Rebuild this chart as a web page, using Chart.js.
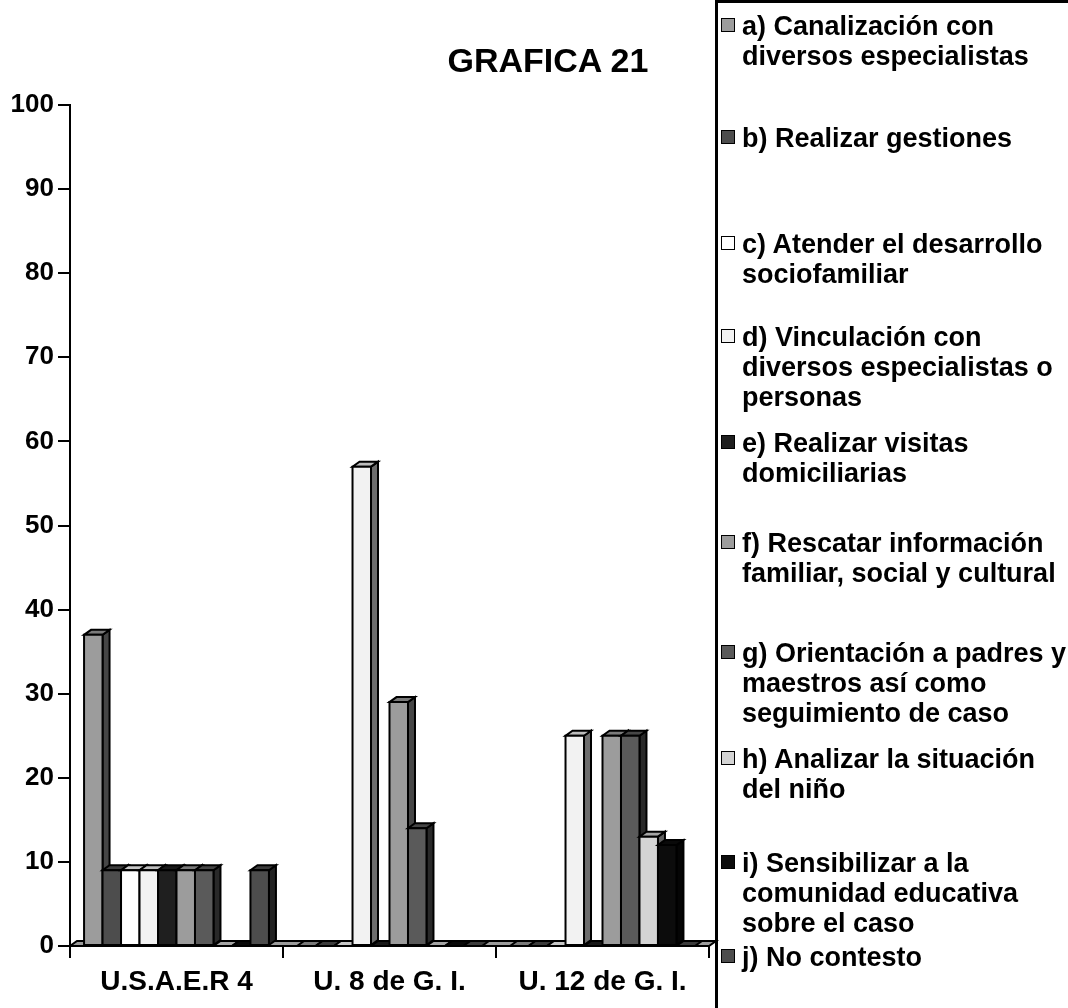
<!DOCTYPE html>
<html>
<head>
    <title>Grafica 21</title>
    <meta charset="UTF-8">
    <style>
        body {
            margin: 0;
            background: #fff;
            font-family: "Liberation Sans", Arial, sans-serif;
        }
        .page {
            position: relative;
            width: 1068px;
            height: 1008px;
            overflow: hidden;
        }
        .chart-container {
            position: absolute;
            left: 0;
            top: 0;
            width: 1068px;
            height: 1008px;
        }
        .main-title {
            position: absolute;
            left: 398px;
            top: 44px;
            width: 300px;
            text-align: center;
            font-size: 34px;
            line-height: 32px;
            font-weight: bold;
            color: #000;
        }
        .legend {
            position: absolute;
            left: 715px;
            top: 0;
            width: 400px;
            height: 1100px;
            box-sizing: border-box;
            border: 3px solid #000;
        }
        .legend-item {
            position: absolute;
            left: 24px;
            white-space: pre;
            font-size: 27px;
            line-height: 30px;
            font-weight: bold;
            color: #000;
        }
        .legend-box {
            position: absolute;
            left: -21px;
            top: 7px;
            width: 12px;
            height: 12px;
            border: 1.5px solid #000;
        }
    </style>
    <!-- Include Chart.js library -->
    <script src="https://cdn.jsdelivr.net/npm/chart.js"></script>
</head>
<body>

<div class="page">
    <div class="chart-container">
        <canvas id="chartGrafica"></canvas>
    </div>
    <div class="main-title">GRAFICA 21</div>
    <div class="legend" id="legend"></div>
</div>

<script>
    // Categories on the x axis
    const categories = ['U.S.A.E.R 4', 'U. 8 de G. I.', 'U. 12 de G. I.'];

    // One list of percentages per answer, in category order
    const canalizacion = [37, 0, 0];
    const gestiones = [9, 0, 0];
    const desarrollo = [9, 0, 0];
    const vinculacion = [9, 57, 25];
    const visitas = [9, 0, 0];
    const rescatar = [9, 29, 25];
    const orientacion = [9, 14, 25];
    const analizar = [0, 0, 13];
    const sensibilizar = [0, 0, 12];
    const noContesto = [9, 0, 0];

    const seriesLabels = [
        'a) Canalización con\ndiversos especialistas',
        'b) Realizar gestiones',
        'c) Atender el desarrollo\nsociofamiliar',
        'd) Vinculación con\ndiversos especialistas o\npersonas',
        'e) Realizar visitas\ndomiciliarias',
        'f) Rescatar información\nfamiliar, social y cultural',
        'g) Orientación a padres y\nmaestros así como\nseguimiento de caso',
        'h) Analizar la situación\ndel niño',
        'i) Sensibilizar a la\ncomunidad educativa\nsobre el caso',
        'j) No contesto'
    ];

    const yTickValues = [0, 10, 20, 30, 40, 50, 60, 70, 80, 90, 100];

    const seriesValues = [canalizacion, gestiones, desarrollo, vinculacion, visitas,
        rescatar, orientacion, analizar, sensibilizar, noContesto];

    const seriesColors = ['#9c9c9c', '#4d4d4d', '#ffffff', '#f2f2f2', '#1f1f1f',
        '#9c9c9c', '#5a5a5a', '#d4d4d4', '#0c0c0c', '#4d4d4d'];

    // baseline of the first line of each legend entry
    const legendBaselines = [35, 147, 253, 346, 452, 552, 662, 768, 872, 966];

    // depth of the extruded bars
    const DEPTH_X = 7;
    const DEPTH_Y = 5;

    function shade(hex, f) {
        const n = parseInt(hex.slice(1), 16);
        const r = Math.round(((n >> 16) & 255) * f);
        const g = Math.round(((n >> 8) & 255) * f);
        const b = Math.round((n & 255) * f);
        return `rgb(${r}, ${g}, ${b})`;
    }

    function poly(ctx, pts, fill) {
        ctx.beginPath();
        ctx.moveTo(pts[0][0], pts[0][1]);
        for (let i = 1; i < pts.length; i++) ctx.lineTo(pts[i][0], pts[i][1]);
        ctx.closePath();
        ctx.fillStyle = fill;
        ctx.fill();
        ctx.stroke();
    }

    // draws each bar as a small prism (front, side and top) plus the floor strip
    const prismBars = {
        id: 'prismBars',
        beforeDatasetsDraw(chart) {
            const ctx = chart.ctx;
            const xScale = chart.scales.x;
            const base = chart.scales.y.getPixelForValue(0);

            ctx.save();
            ctx.lineWidth = 2;
            ctx.strokeStyle = '#000';
            ctx.lineJoin = 'miter';

            poly(ctx, [
                [xScale.left, base], [xScale.right, base],
                [xScale.right + DEPTH_X, base - DEPTH_Y], [xScale.left + DEPTH_X, base - DEPTH_Y]
            ], '#9c9c9c');

            chart.data.labels.forEach((_, c) => {
                chart.data.datasets.forEach((ds, d) => {
                    const bar = chart.getDatasetMeta(d).data[c].getProps(['x', 'y', 'base', 'width'], true);
                    const left = bar.x - bar.width / 2;
                    const right = bar.x + bar.width / 2;
                    const top = bar.y;
                    const bottom = bar.base;
                    const col = ds.backgroundColor;

                    if (top < bottom - 0.5) {
                        poly(ctx, [
                            [right, bottom], [right + DEPTH_X, bottom - DEPTH_Y],
                            [right + DEPTH_X, top - DEPTH_Y], [right, top]
                        ], shade(col, 0.45));
                    }
                    poly(ctx, [
                        [left, top], [right, top],
                        [right + DEPTH_X, top - DEPTH_Y], [left + DEPTH_X, top - DEPTH_Y]
                    ], shade(col, 0.78));
                    if (top < bottom - 0.5) {
                        poly(ctx, [[left, top], [right, top], [right, bottom], [left, bottom]], col);
                    }
                });
            });

            ctx.restore();
            return false;
        }
    };

    function buildLegend() {
        const legend = document.getElementById('legend');
        seriesLabels.forEach((label, i) => {
            const item = document.createElement('div');
            item.className = 'legend-item';
            // 3px border of the legend frame, baseline sits 24px below the line top
            item.style.top = (legendBaselines[i] - 24 - 3) + 'px';
            item.textContent = label;

            const box = document.createElement('span');
            box.className = 'legend-box';
            box.style.background = seriesColors[i];
            item.appendChild(box);

            legend.appendChild(item);
        });
    }

    function renderChart() {
        Chart.defaults.font.family = '"Liberation Sans", Arial, sans-serif';
        Chart.defaults.font.weight = 'bold';
        Chart.defaults.color = '#000';

        const ctx = document.getElementById('chartGrafica').getContext('2d');

        new Chart(ctx, {
            type: 'bar',
            data: {
                labels: categories,
                datasets: seriesLabels.map((label, i) => ({
                    label: label,
                    data: seriesValues[i],
                    backgroundColor: seriesColors[i],
                    borderColor: '#000',
                    borderWidth: 2,
                    categoryPercentage: 0.868,
                    barPercentage: 1.0
                }))
            },
            options: {
                responsive: true,
                maintainAspectRatio: false,
                animation: false,
                layout: {
                    padding: { top: 105, right: 359, bottom: 0, left: 0 }
                },
                plugins: {
                    legend: { display: false },
                    title: { display: false },
                    tooltip: { enabled: false }
                },
                scales: {
                    x: {
                        afterFit: function (scale) { scale.height = 62; },
                        grid: {
                            offset: true,
                            drawOnChartArea: false,
                            drawTicks: true,
                            tickLength: 12,
                            color: '#000',
                            lineWidth: 2
                        },
                        border: { display: true, color: '#000', width: 2 },
                        ticks: {
                            font: { size: 28, weight: 'bold' },
                            color: '#000',
                            padding: 7,
                            maxRotation: 0
                        }
                    },
                    y: {
                        min: 0,
                        max: 100,
                        afterFit: function (scale) { scale.width = 70; },
                        afterBuildTicks: function (scale) {
                            scale.ticks = yTickValues.map(v => ({ value: v }));
                        },
                        grid: {
                            drawOnChartArea: false,
                            drawTicks: true,
                            tickLength: 12,
                            color: '#000',
                            lineWidth: 2
                        },
                        border: { display: true, color: '#000', width: 2 },
                        ticks: {
                            font: { size: 26, weight: 'bold' },
                            color: '#000',
                            padding: 4
                        }
                    }
                }
            },
            plugins: [prismBars]
        });
    }

    window.onload = function () {
        buildLegend();
        renderChart();
    };
</script>

</body>
</html>
